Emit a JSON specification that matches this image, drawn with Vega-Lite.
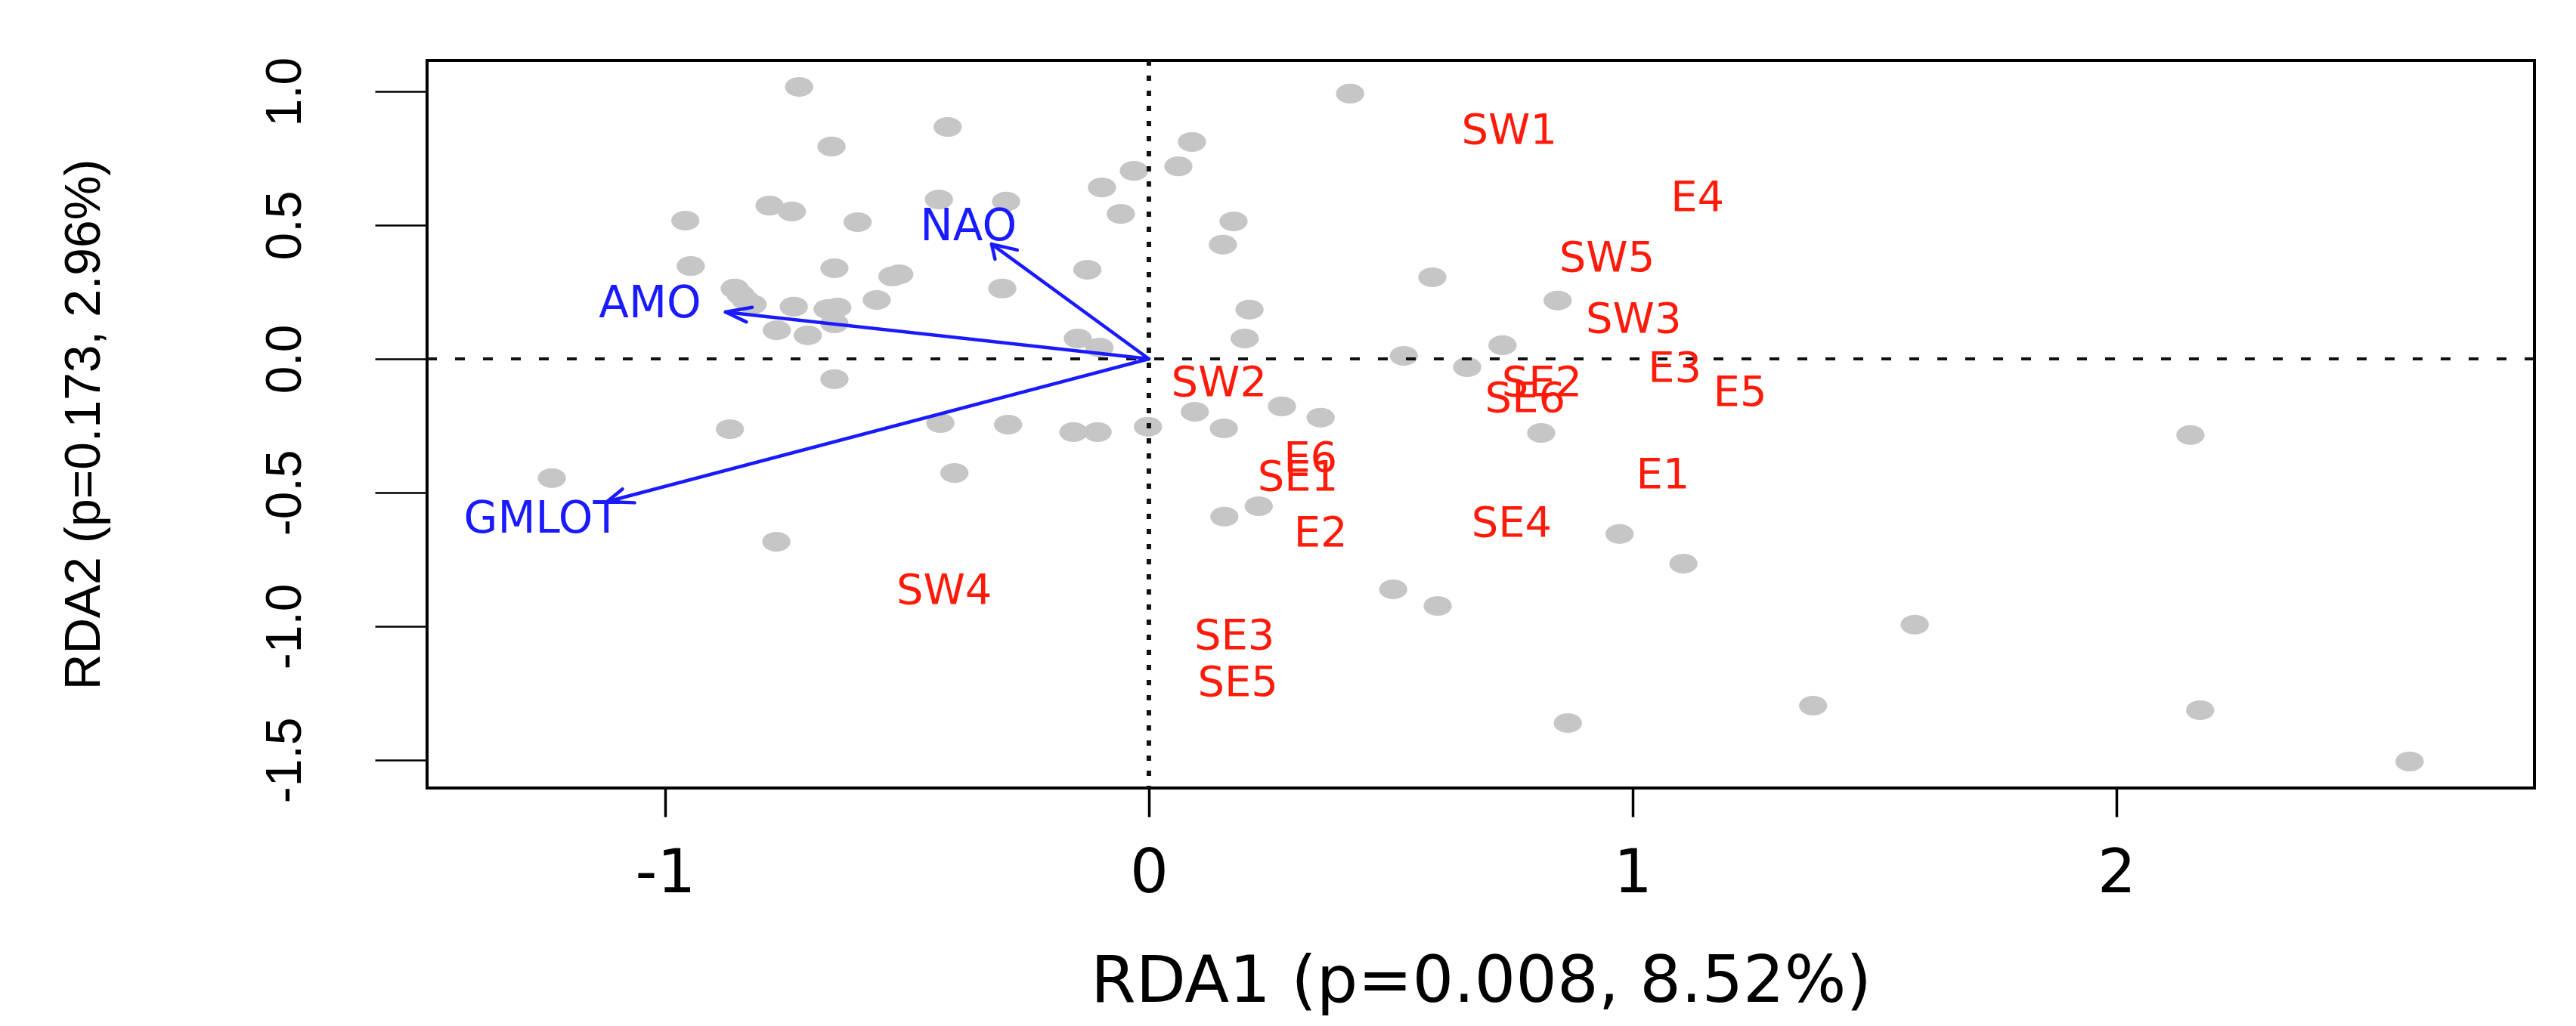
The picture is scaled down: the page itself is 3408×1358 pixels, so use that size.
{
  "$schema": "https://vega.github.io/schema/vega-lite/v6.json",
  "width": 2788,
  "height": 963,
  "autosize": {"type": "none"},
  "padding": {"left": 565, "top": 80, "right": 55, "bottom": 315},
  "background": "white",
  "datasets": {
    "points": [
      {"x": -0.723, "y": 1.017}, {"x": -0.416, "y": 0.867}, {"x": -0.656, "y": 0.794}, {"x": -0.031, "y": 0.703},
      {"x": -0.097, "y": 0.641}, {"x": -0.058, "y": 0.542}, {"x": -0.434, "y": 0.596}, {"x": -0.295, "y": 0.588},
      {"x": -0.784, "y": 0.573}, {"x": -0.738, "y": 0.551}, {"x": -0.958, "y": 0.517}, {"x": -0.602, "y": 0.511},
      {"x": -0.947, "y": 0.347}, {"x": -0.65, "y": 0.339}, {"x": -0.127, "y": 0.333}, {"x": -0.53, "y": 0.308},
      {"x": -0.516, "y": 0.316}, {"x": -0.303, "y": 0.263}, {"x": -0.856, "y": 0.263}, {"x": -0.844, "y": 0.24},
      {"x": -0.834, "y": 0.22}, {"x": -0.819, "y": 0.203}, {"x": -0.734, "y": 0.195}, {"x": -0.664, "y": 0.186},
      {"x": -0.644, "y": 0.192}, {"x": -0.5625, "y": 0.22}, {"x": -0.769, "y": 0.107}, {"x": -0.705, "y": 0.088},
      {"x": -0.65, "y": 0.133}, {"x": -0.147, "y": 0.076}, {"x": -0.102, "y": 0.042}, {"x": -0.65, "y": -0.076},
      {"x": -0.866, "y": -0.263}, {"x": -0.431, "y": -0.24}, {"x": -0.291, "y": -0.246}, {"x": -0.156, "y": -0.274},
      {"x": -0.106, "y": -0.274}, {"x": -0.002, "y": -0.254}, {"x": 0.416, "y": 0.992}, {"x": 0.089, "y": 0.811},
      {"x": 0.061, "y": 0.72}, {"x": 0.175, "y": 0.514}, {"x": 0.153, "y": 0.427}, {"x": 0.586, "y": 0.305},
      {"x": 0.208, "y": 0.184}, {"x": 0.198, "y": 0.076}, {"x": 0.527, "y": 0.011}, {"x": 0.658, "y": -0.031},
      {"x": 0.845, "y": 0.218}, {"x": 0.731, "y": 0.051}, {"x": 0.095, "y": -0.198}, {"x": 0.275, "y": -0.178},
      {"x": 0.355, "y": -0.22}, {"x": 0.155, "y": -0.26}, {"x": 0.811, "y": -0.277}, {"x": -0.402, "y": -0.427},
      {"x": 0.227, "y": -0.551}, {"x": 0.156, "y": -0.59}, {"x": 0.505, "y": -0.862}, {"x": 0.597, "y": -0.924},
      {"x": -1.234, "y": -0.446}, {"x": -0.77, "y": -0.684}, {"x": 0.973, "y": -0.655}, {"x": 1.105, "y": -0.766},
      {"x": 0.866, "y": -1.362}, {"x": 1.373, "y": -1.297}, {"x": 2.153, "y": -0.285}, {"x": 1.583, "y": -0.994},
      {"x": 2.173, "y": -1.314}, {"x": 2.606, "y": -1.506}
    ],
    "sites": [
      {"label": "SW1", "x": 0.745, "y": 0.853}, {"label": "E4", "x": 1.134, "y": 0.602},
      {"label": "SW5", "x": 0.947, "y": 0.376}, {"label": "SW3", "x": 1.002, "y": 0.147},
      {"label": "E3", "x": 1.087, "y": -0.038}, {"label": "E5", "x": 1.222, "y": -0.127},
      {"label": "SE2", "x": 0.8125, "y": -0.09}, {"label": "SE6", "x": 0.778, "y": -0.15},
      {"label": "SW2", "x": 0.145, "y": -0.091}, {"label": "E6", "x": 0.334, "y": -0.373},
      {"label": "SE1", "x": 0.308, "y": -0.444}, {"label": "E2", "x": 0.355, "y": -0.652},
      {"label": "SE4", "x": 0.75, "y": -0.617}, {"label": "E1", "x": 1.0625, "y": -0.435},
      {"label": "SE3", "x": 0.177, "y": -1.037}, {"label": "SE5", "x": 0.184, "y": -1.212},
      {"label": "SW4", "x": -0.423, "y": -0.867}
    ],
    "env": [
      {"label": "NAO", "x": -0.373, "y": 0.492},
      {"label": "AMO", "x": -1.031, "y": 0.203},
      {"label": "GMLOT", "x": -1.255, "y": -0.602}
    ],
    "segs": [
      {"x": 0, "y": 0, "x2": -0.325, "y2": 0.429},
      {"x": 0, "y": 0, "x2": -0.875, "y2": 0.175},
      {"x": 0, "y": 0, "x2": -1.12, "y2": -0.534},
      {"x": -0.325, "y": 0.429, "x2": -0.318, "y2": 0.373},
      {"x": -0.325, "y": 0.429, "x2": -0.272, "y2": 0.407},
      {"x": -0.875, "y": 0.175, "x2": -0.832, "y2": 0.138},
      {"x": -0.875, "y": 0.175, "x2": -0.82, "y2": 0.193},
      {"x": -1.12, "y": -0.534, "x2": -1.063, "y2": -0.538},
      {"x": -1.12, "y": -0.534, "x2": -1.088, "y2": -0.487}
    ],
    "zero": [{"v": 0}]
  },
  "layer": [
    {
      "data": {"name": "points"},
      "mark": {"type": "point", "shape": "M-1,0A1,0.7,0,1,1,1,0A1,0.7,0,1,1,-1,0Z", "filled": true, "color": "#c6c6c6", "opacity": 1, "size": 1400},
      "encoding": {
        "x": {
          "field": "x", "type": "quantitative",
          "scale": {"domain": [-1.492, 2.864], "nice": false, "zero": false},
          "axis": {
            "values": [-1, 0, 1, 2],
            "title": "RDA1 (p=0.008, 8.52%)",
            "tickSize": 38, "tickWidth": 3.5,
            "labelFont": "DejaVu Sans", "labelFontSize": 80, "labelPadding": 99,
            "labelBaseline": "alphabetic", "labelAlign": "center",
            "labelExpr": "datum.value < 0 ? '-' + format(-datum.value, 'd') : format(datum.value, 'd')",
            "titleFont": "DejaVu Sans", "titleFontSize": 86, "titleY": 282, "titleBaseline": "alphabetic"
          }
        },
        "y": {
          "field": "y", "type": "quantitative",
          "scale": {"domain": [-1.605, 1.116], "nice": false, "zero": false},
          "axis": {
            "values": [-1.5, -1, -0.5, 0, 0.5, 1],
            "title": "RDA2 (p=0.173, 2.96%)",
            "tickSize": 69, "tickWidth": 2.5,
            "labelFont": "Liberation Sans",
            "labelFontSize": 66, "labelAngle": 270, "labelAlign": "center", "labelBaseline": "alphabetic",
            "labelPadding": 99,
            "labelExpr": "datum.value < 0 ? '-' + format(-datum.value, '.1f') : format(datum.value, '.1f')",
            "titleFont": "Liberation Sans",
            "titleFontSize": 66, "titleAngle": 270, "titleX": -434, "titleBaseline": "alphabetic"
          }
        }
      }
    },
    {
      "data": {"name": "zero"},
      "mark": {"type": "rule", "color": "#111111", "strokeWidth": 6, "strokeDash": [7, 13]},
      "encoding": {
        "x": {"field": "v", "type": "quantitative", "scale": {"domain": [-1.492, 2.864], "nice": false, "zero": false}}
      }
    },
    {
      "data": {"name": "zero"},
      "mark": {"type": "rule", "color": "#111111", "strokeWidth": 4, "strokeDash": [13, 24]},
      "encoding": {
        "y": {"field": "v", "type": "quantitative", "scale": {"domain": [-1.605, 1.116], "nice": false, "zero": false}}
      }
    },
    {
      "data": {"name": "segs"},
      "mark": {"type": "rule", "color": "#1a1aff", "strokeWidth": 4.5, "strokeCap": "round"},
      "encoding": {
        "x": {"field": "x", "type": "quantitative", "scale": {"domain": [-1.492, 2.864], "nice": false, "zero": false}},
        "y": {"field": "y", "type": "quantitative", "scale": {"domain": [-1.605, 1.116], "nice": false, "zero": false}},
        "x2": {"field": "x2"},
        "y2": {"field": "y2"}
      }
    },
    {
      "data": {"name": "env"},
      "mark": {"type": "text", "font": "DejaVu Sans", "fontSize": 58, "color": "#1a1aff", "align": "center", "baseline": "middle"},
      "encoding": {
        "x": {"field": "x", "type": "quantitative", "scale": {"domain": [-1.492, 2.864], "nice": false, "zero": false}},
        "y": {"field": "y", "type": "quantitative", "scale": {"domain": [-1.605, 1.116], "nice": false, "zero": false}},
        "text": {"field": "label"}
      }
    },
    {
      "data": {"name": "sites"},
      "mark": {"type": "text", "font": "DejaVu Sans", "fontSize": 56, "color": "#ff1a0a", "align": "center", "baseline": "middle"},
      "encoding": {
        "x": {"field": "x", "type": "quantitative", "scale": {"domain": [-1.492, 2.864], "nice": false, "zero": false}},
        "y": {"field": "y", "type": "quantitative", "scale": {"domain": [-1.605, 1.116], "nice": false, "zero": false}},
        "text": {"field": "label"}
      }
    }
  ],
  "config": {
    "view": {"stroke": "#000000", "strokeWidth": 4},
    "axis": {
      "grid": false, "domain": false, "tickColor": "#000000", "labelColor": "#000000",
      "titleColor": "#000000", "titleFontWeight": "normal", "labelOverlap": false,
      "labelFlush": false, "labelBound": false
    }
  }
}
